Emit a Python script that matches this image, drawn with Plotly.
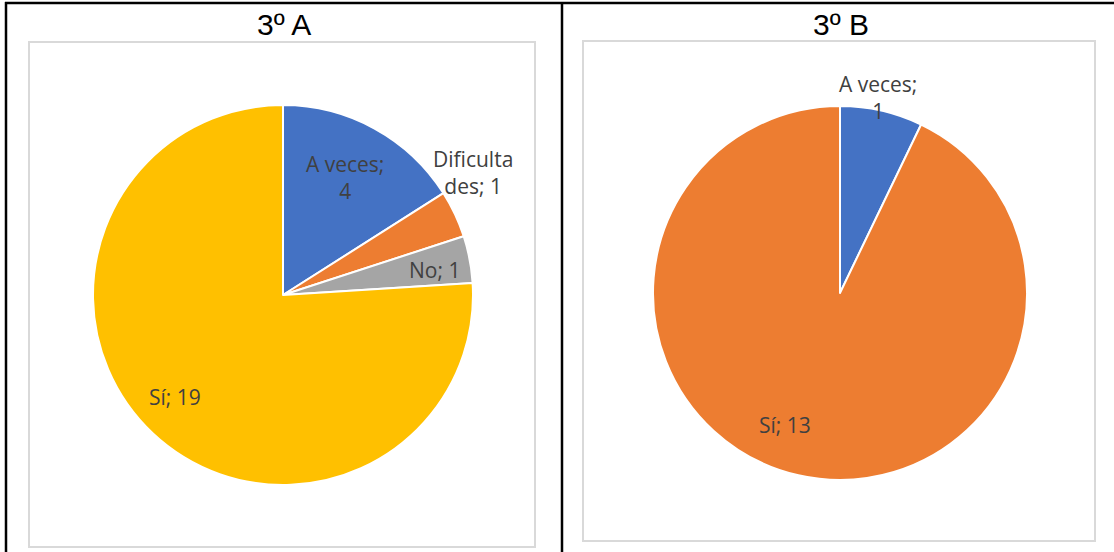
import math
import textwrap
import plotly.graph_objects as go

# ---- data ----
titles = ["3º A", "3º B"]
cats_A = ["A veces", "Dificultades", "No", "Sí"]
vals_A = [4, 1, 1, 19]
colors_A = ["#4472C4", "#ED7D31", "#A5A5A5", "#FFC000"]
cats_B = ["A veces", "Sí"]
vals_B = [1, 13]
colors_B = ["#4472C4", "#ED7D31"]

# ---- layout / style ----
W, H = 1114, 552
FONT = "Open Sans"
TITLE_FONT = "Liberation Sans"
LABEL_COLOR = "#404040"

# pie geometry in pixels (cx, cy, r)
pies = [
    dict(cx=283, cy=295, r=190, cats=cats_A, vals=vals_A, colors=colors_A,
         rfrac=[0.70, 1.19, 0.81, 0.78], nudge=[-1, -7.5, 1.5, 3.4], title_x=284),
    dict(cx=840, cy=293, r=187, cats=cats_B, vals=vals_B, colors=colors_B,
         rfrac=[1.065, 0.765], nudge=[-2, 9.7], title_x=841),
]

fig = go.Figure()
annotations = []
for i, p in enumerate(pies):
    x0, x1 = (p["cx"] - p["r"]) / W, (p["cx"] + p["r"]) / W
    y0, y1 = 1 - (p["cy"] + p["r"]) / H, 1 - (p["cy"] - p["r"]) / H
    fig.add_trace(go.Pie(
        labels=p["cats"], values=p["vals"], sort=False, direction="clockwise",
        rotation=0, textinfo="none", hoverinfo="label+value",
        marker=dict(colors=p["colors"], line=dict(color="white", width=2)),
        domain=dict(x=[x0, x1], y=[y0, y1]), showlegend=False,
    ))
    total = sum(p["vals"])
    cum = 0
    for j, (c, v) in enumerate(zip(p["cats"], p["vals"])):
        mid = (cum + v / 2) / total * 360 + p["nudge"][j]
        cum += v
        rr = p["r"] * p["rfrac"][j]
        px = p["cx"] + rr * math.sin(math.radians(mid))
        py = p["cy"] - rr * math.cos(math.radians(mid))
        txt = "<br>".join(textwrap.wrap(f"{c}; {v}", 9, break_long_words=True))
        annotations.append(dict(
            x=px / W, y=1 - py / H, xref="paper", yref="paper", text=txt,
            showarrow=False, xanchor="center", yanchor="middle",
            font=dict(family=FONT, size=21, color=LABEL_COLOR),
        ))
    annotations.append(dict(
        x=p["title_x"] / W, y=1 - 25 / H, xref="paper", yref="paper",
        text=titles[i], showarrow=False, xanchor="center", yanchor="middle",
        font=dict(family=TITLE_FONT, size=30, color="black"),
    ))

def px_rect(x0, y0, x1, y1, color, width):
    return dict(type="rect", xref="paper", yref="paper",
                x0=x0 / W, x1=x1 / W, y0=1 - y1 / H, y1=1 - y0 / H,
                line=dict(color=color, width=width), fillcolor="rgba(0,0,0,0)")

def px_line(x0, y0, x1, y1, color, width):
    return dict(type="line", xref="paper", yref="paper",
                x0=x0 / W, x1=x1 / W, y0=1 - y0 / H, y1=1 - y1 / H,
                line=dict(color=color, width=width))

shapes = [
    px_rect(29, 42, 535, 547, "#D9D9D9", 2),
    px_rect(583, 41, 1095, 541, "#D9D9D9", 2),
    px_line(5, 3, 1114, 3, "black", 2.5),
    px_line(6, 2, 6, 552, "black", 2.5),
    px_line(562, 2, 562, 552, "black", 2.5),
]

fig.update_layout(
    width=W, height=H, margin=dict(l=0, r=0, t=0, b=0),
    paper_bgcolor="white", plot_bgcolor="white",
    annotations=annotations, shapes=shapes,
)
fig.write_html("out.html", config={"displayModeBar": False},
               post_script="document.body.style.margin='0';document.body.style.overflow='hidden';")
